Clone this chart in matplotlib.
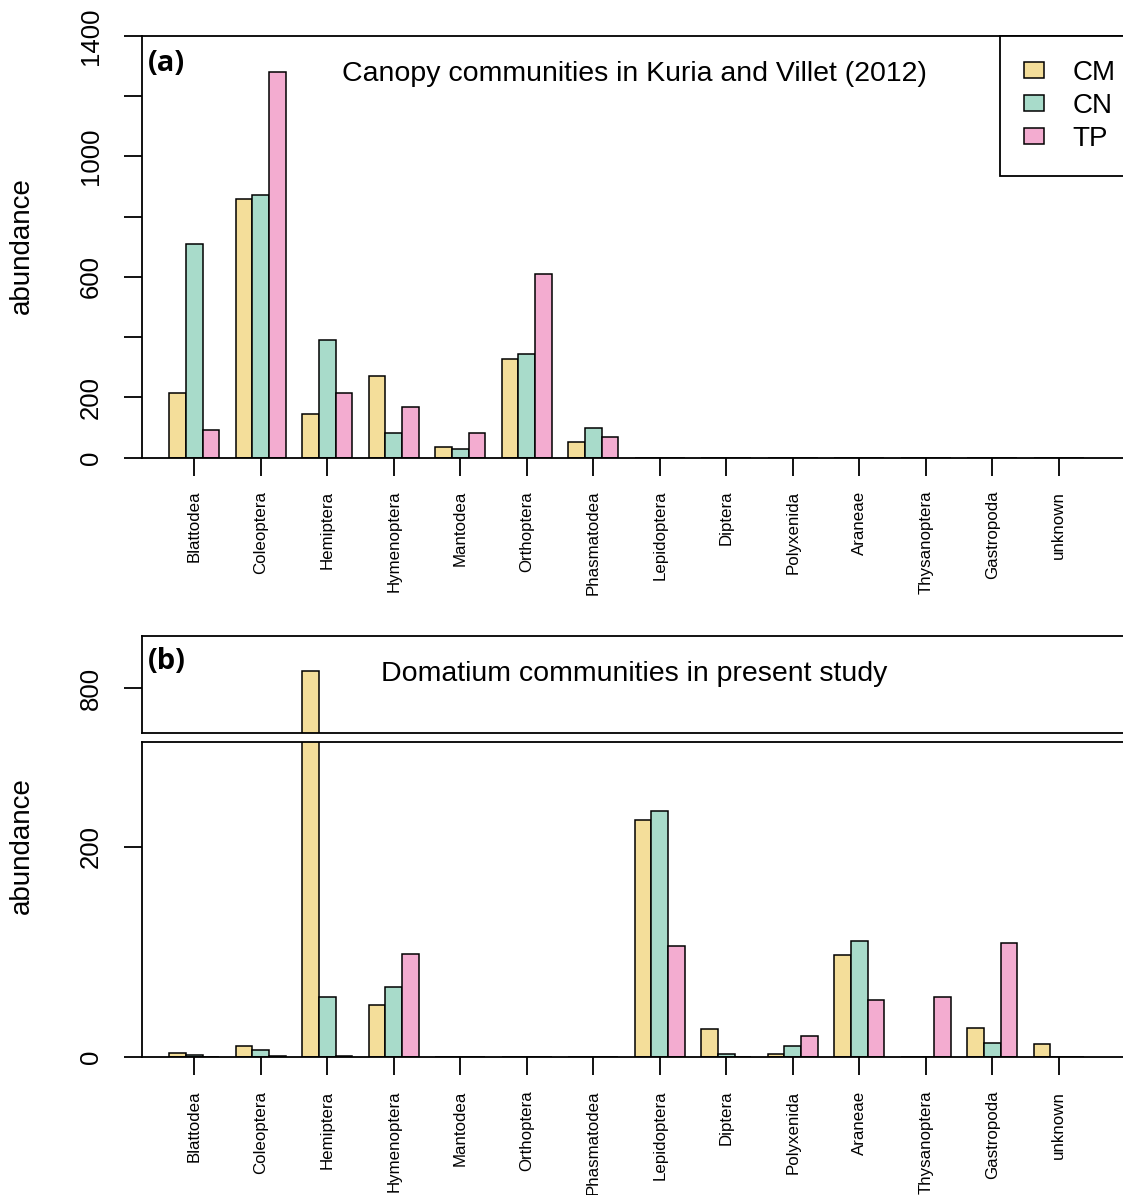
import matplotlib
matplotlib.use("Agg")
import matplotlib.pyplot as plt
import numpy as np
from matplotlib.patches import Patch

# Data
taxa = ["Blattodea", "Coleoptera", "Hemiptera", "Hymenoptera", "Mantodea", "Orthoptera",
        "Phasmatodea", "Lepidoptera", "Diptera", "Polyxenida", "Araneae", "Thysanoptera",
        "Gastropoda", "unknown"]
groups = ["CM", "CN", "TP"]
group_colors = ["#F4DE9A", "#A8DBCA", "#F3ACD0"]

# (a) canopy communities, Kuria and Villet (2012)
canopy_cm = [214, 860, 146, 271, 35, 328, 52, 0, 0, 0, 0, 0, 0, 0]
canopy_cn = [709, 872, 390, 82, 29, 345, 99, 0, 0, 0, 0, 0, 0, 0]
canopy_tp = [93, 1282, 213, 168, 82, 610, 68, 0, 0, 0, 0, 0, 0, 0]

# (b) domatium communities, present study
domat_cm = [4, 11, 816, 50, 0, 0, 0, 226, 27, 3, 97, 0, 28, 13]
domat_cn = [2, 7, 57, 67, 0, 0, 0, 234, 3, 11, 111, 0, 14, 0]
domat_tp = [0, 1, 1, 98, 0, 0, 0, 106, 0, 20, 54, 57, 109, 0]

FONT = "Liberation Sans"
plt.rcParams["font.family"] = [FONT, "DejaVu Sans"]

W, H = 1123, 1195
fig = plt.figure(figsize=(W / 100, H / 100), dpi=100)

left_px = 141.7
px_per_unit = 16.625
x0 = -0.66
xlim = (x0, x0 + (W - left_px) / px_per_unit)

centers = 2.5 + 4 * np.arange(len(taxa))


def fig_rect(top_px, bottom_px):
    return [left_px / W, 1 - bottom_px / H, 1 - left_px / W, (bottom_px - top_px) / H]


def style_axes(ax):
    ax.spines["right"].set_visible(False)
    for s in ["left", "top", "bottom"]:
        ax.spines[s].set_linewidth(1.3)
    ax.set_xlim(*xlim)
    ax.tick_params(axis="y", length=13, width=1.3, pad=15, labelsize=18.5)


def draw_bars(ax, series):
    for k, (vals, col) in enumerate(zip(series, group_colors)):
        ax.bar(centers + (k - 1), vals, width=1.0, color=col, edgecolor="black",
               linewidth=1.1, zorder=2)


def set_xticks(ax):
    ax.set_xticks(centers)
    ax.set_xticklabels(taxa, rotation=90, fontsize=12.2, va="top")
    ax.tick_params(axis="x", length=13, width=1.3, pad=11)


label_font = ["Open Sans", "DejaVu Sans"]

# ---- panel (a)
ax_a = fig.add_axes(fig_rect(36, 457.5))
draw_bars(ax_a, [canopy_cm, canopy_cn, canopy_tp])
ax_a.set_ylim(0, 1400)
style_axes(ax_a)
yt = np.arange(0, 1401, 200)
ax_a.set_yticks(yt)
ax_a.set_yticklabels([str(v) if v in (0, 200, 600, 1000, 1400) else "" for v in yt],
                     rotation=90, va="center")
set_xticks(ax_a)
ax_a.text(0.006, 0.968, "(a)", transform=ax_a.transAxes, ha="left", va="top",
          fontsize=21, fontweight="bold", family=label_font)
ax_a.text(0.502, 0.91, "Canopy communities in Kuria and Villet (2012)",
          transform=ax_a.transAxes, ha="center", va="center", fontsize=20.5)
handles = [Patch(facecolor=c, edgecolor="black", linewidth=1.1) for c in group_colors]
leg = ax_a.legend(handles, groups, loc="upper left",
                  bbox_to_anchor=((1000 - left_px) / (W - left_px), 1.0),
                  borderaxespad=0, fontsize=20, frameon=True, fancybox=False,
                  edgecolor="black", framealpha=1, borderpad=0.85, labelspacing=0.26,
                  handlelength=0.75, handleheight=0.5, handletextpad=1.0)
leg.get_frame().set_linewidth(1.3)

# ---- panel (b), broken y axis
ax_bu = fig.add_axes(fig_rect(635.7, 732.7))
ax_bl = fig.add_axes(fig_rect(741.7, 1057.3))
for ax in (ax_bu, ax_bl):
    draw_bars(ax, [domat_cm, domat_cn, domat_tp])
ax_bu.set_ylim(757.8, 850)
ax_bl.set_ylim(0, 300)
style_axes(ax_bu)
style_axes(ax_bl)
ax_bu.set_yticks([800])
ax_bu.set_yticklabels(["800"], rotation=90, va="center")
ax_bu.set_xticks([])
ax_bl.set_yticks([0, 200])
ax_bl.set_yticklabels(["0", "200"], rotation=90, va="center")
set_xticks(ax_bl)
ax_bu.text(0.006, 0.88, "(b)", transform=ax_bu.transAxes, ha="left", va="top",
           fontsize=21, fontweight="bold", family=label_font)
ax_bu.text(0.502, 0.61, "Domatium communities in present study",
           transform=ax_bu.transAxes, ha="center", va="center", fontsize=20.5)

fig.text(22 / W, 1 - 246 / H, "abundance", rotation=90, ha="center", va="center", fontsize=20)
fig.text(22 / W, 1 - 846 / H, "abundance", rotation=90, ha="center", va="center", fontsize=20)

fig.savefig("out.png", dpi=100)
